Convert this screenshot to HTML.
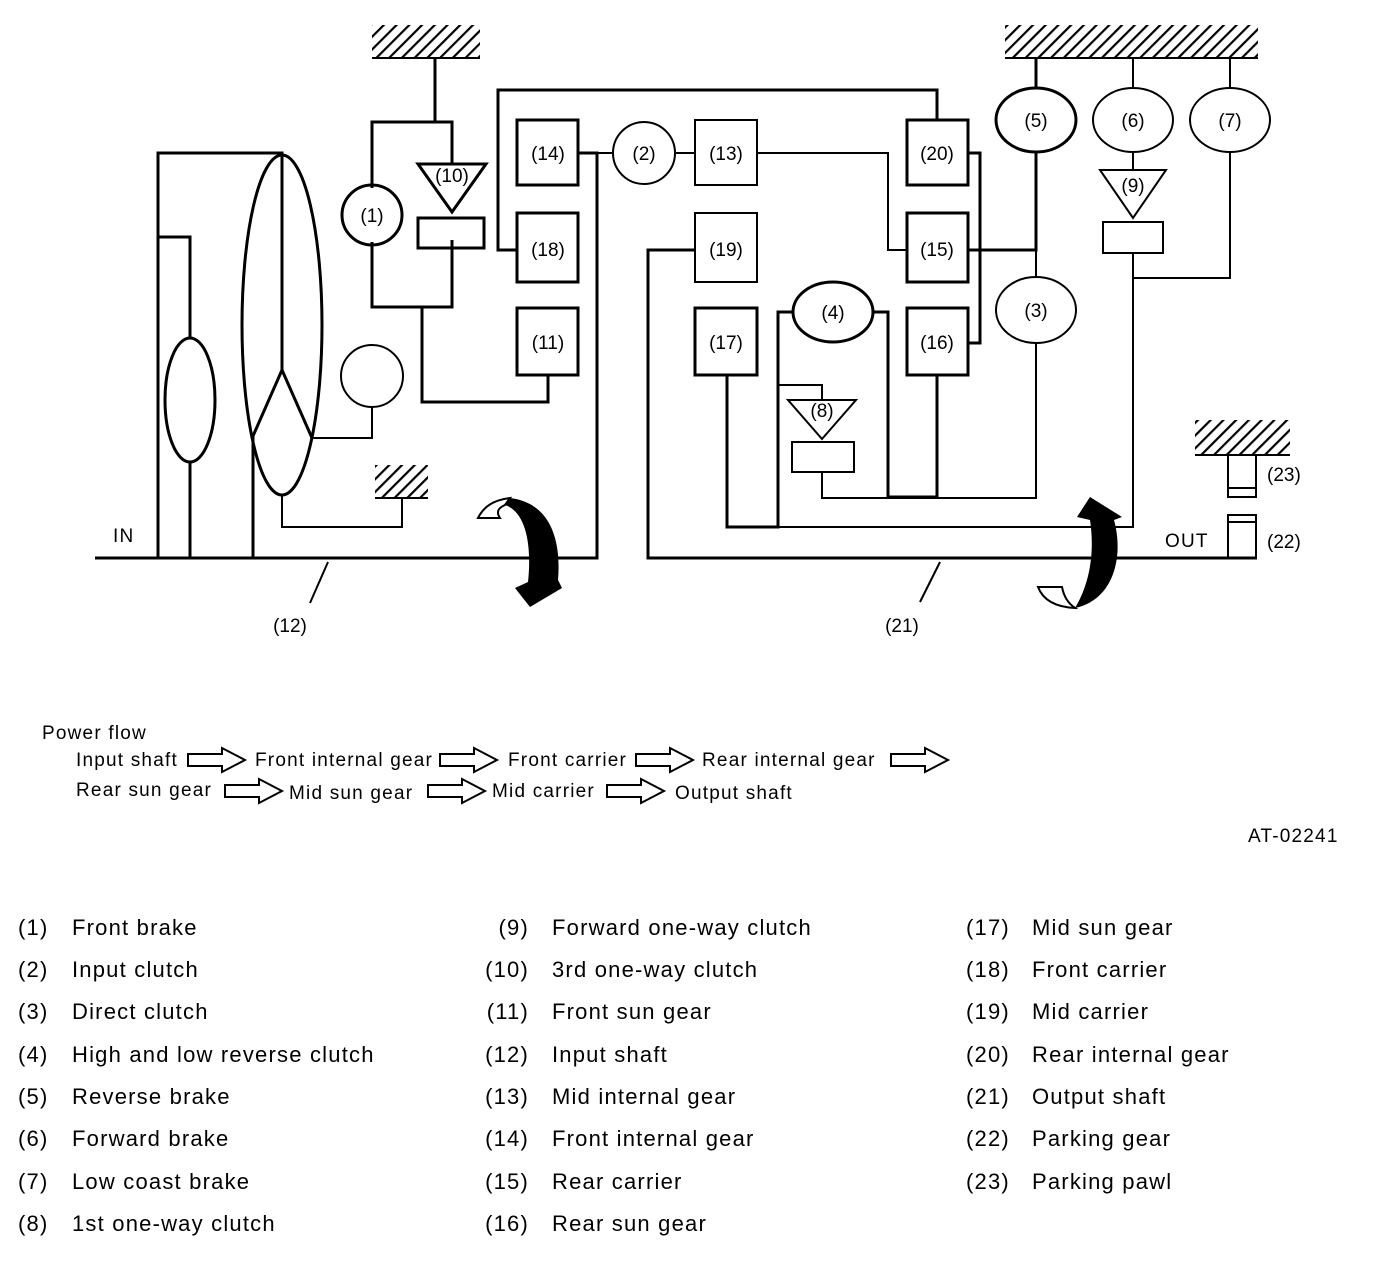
<!DOCTYPE html>
<html><head><meta charset="utf-8"><style>
html,body{margin:0;padding:0;background:#fff;}
svg{display:block;}
text{font-family:"Liberation Sans",Arial,sans-serif;fill:#000;}
.sp{letter-spacing:1.2px;}
</style></head><body>
<svg width="1392" height="1268" viewBox="0 0 1392 1268" xmlns="http://www.w3.org/2000/svg">
<defs>
<pattern id="h" width="9" height="9" patternUnits="userSpaceOnUse" patternTransform="rotate(45)">
<rect x="0" y="0" width="2.2" height="9" fill="#000"/></pattern>
<path id="ha" d="M0,-6 H34 V-12 L57,0 L34,12 V6 H0 Z" fill="#fff" stroke="#000" stroke-width="2"/>
</defs>
<g fill="none" stroke="#000" stroke-width="2">
<rect x="372" y="25" width="108" height="32" fill="url(#h)" stroke="none"/>
<line x1="372" y1="58" x2="480" y2="58"/>
<rect x="1005" y="25" width="253" height="32" fill="url(#h)" stroke="none"/>
<line x1="1005" y1="58" x2="1258" y2="58"/>
<rect x="375" y="465" width="53" height="32" fill="url(#h)" stroke="none"/>
<line x1="375" y1="498" x2="428" y2="498"/>
<rect x="1195" y="420" width="95" height="34" fill="url(#h)" stroke="none"/>
<line x1="1195" y1="455" x2="1290" y2="455"/>
</g>
<g fill="none" stroke="#000" stroke-width="3">
<polyline points="435,58 435,122"/>
<polyline points="372,188 372,122 452,122 452,165"/>
<polyline points="372,242 372,307 452,307 452,240"/>
<polyline points="422,307 422,402 548,402 548,375"/>
<circle cx="372" cy="215" r="30"/>
<polygon points="418,164 486,164 452,212"/>
<rect x="418" y="218" width="66" height="30"/>
<rect x="517" y="120" width="61" height="65"/>
<rect x="517" y="213" width="61" height="69"/>
<rect x="517" y="308" width="61" height="67"/>
<polyline points="517,250 498,250 498,90 937,90 937,120"/>
<polyline points="578,153 597,153 597,558 95,558"/>
<polyline points="158,558 158,153 282,153 282,370"/>
<ellipse cx="282" cy="325" rx="40" ry="170"/>
<polyline points="253,436 282,370 312,438"/>
<line x1="253" y1="436" x2="253" y2="558"/>
<ellipse cx="190" cy="400" rx="25" ry="62"/>
<polyline points="158,237 190,237 190,338"/>
<line x1="190" y1="462" x2="190" y2="558"/>
<rect x="907" y="120" width="61" height="65"/>
<rect x="907" y="213" width="61" height="69"/>
<rect x="907" y="308" width="61" height="67"/>
<rect x="695" y="308" width="62" height="67"/>
<polyline points="968,153 980,153 980,343 968,343"/>
<polyline points="968,250 1036,250 1036,152"/>
<ellipse cx="1036" cy="120" rx="40" ry="32"/>
<line x1="1036" y1="58" x2="1036" y2="88"/>
<ellipse cx="833" cy="312" rx="40" ry="30"/>
<polyline points="793,312 778,312 778,527 727,527 727,375"/>
<polyline points="873,312 888,312 888,497 937,497 937,375"/>
<polyline points="695,250 648,250 648,558 1257,558"/>
</g>
<g fill="none" stroke="#000" stroke-width="2">
<polyline points="312,438 372,438 372,407"/>
<circle cx="372" cy="376" r="31"/>
<polyline points="282,495 282,527 402,527 402,498"/>
<line x1="597" y1="153" x2="613" y2="153"/>
<circle cx="644" cy="153" r="31"/>
<line x1="675" y1="153" x2="695" y2="153"/>
<rect x="695" y="120" width="62" height="65"/>
<rect x="695" y="213" width="62" height="69"/>
<polyline points="757,153 888,153 888,250 907,250"/>
<ellipse cx="1133" cy="120" rx="40" ry="32"/>
<ellipse cx="1230" cy="120" rx="40" ry="32"/>
<line x1="1133" y1="58" x2="1133" y2="88"/>
<line x1="1230" y1="58" x2="1230" y2="88"/>
<polyline points="1036,250 1036,277"/>
<ellipse cx="1036" cy="310" rx="40" ry="33"/>
<polyline points="1036,343 1036,498 822,498 822,472"/>
<polyline points="778,385 822,385 822,400"/>
<polygon points="788,400 856,400 822,439"/>
<rect x="792" y="442" width="62" height="30"/>
<line x1="1133" y1="152" x2="1133" y2="170"/>
<polygon points="1100,170 1166,170 1133,218"/>
<rect x="1103" y="222" width="60" height="31"/>
<polyline points="778,527 1133,527 1133,253"/>
<polyline points="1230,152 1230,278 1133,278"/>
<rect x="1228" y="455" width="28" height="42"/>
<line x1="1228" y1="488" x2="1256" y2="488"/>
<rect x="1228" y="515" width="28" height="43"/>
<line x1="1228" y1="522" x2="1256" y2="522"/>
<line x1="328" y1="562" x2="310" y2="603"/>
<line x1="940" y1="562" x2="920" y2="602"/>
</g>
<!-- left rotation arrow -->
<path d="M478,518 C484,506 494,500 510,498 L505,505 C498,508 496,512 500,518 Z" fill="#fff" stroke="#000" stroke-width="2"/>
<path d="M510,498 C545,502 562,532 558,580 L562,588 L530,607 L515,588 L528,582 C532,545 526,512 505,505 Z" fill="#000"/>
<!-- right rotation arrow -->
<path d="M1038,587 L1062,587 C1064,597 1068,603 1075,608 C1055,607 1043,600 1038,587 Z" fill="#fff" stroke="#000" stroke-width="2"/>
<path d="M1090,497 L1122,517 L1114,520 C1124,556 1114,600 1075,608 C1086,590 1096,560 1090,520 L1077,517 Z" fill="#000"/>
<g font-size="19">
<text x="372" y="222" text-anchor="middle">(1)</text>
<text x="452" y="182" text-anchor="middle">(10)</text>
<text x="548" y="160" text-anchor="middle">(14)</text>
<text x="548" y="256" text-anchor="middle">(18)</text>
<text x="548" y="349" text-anchor="middle">(11)</text>
<text x="644" y="160" text-anchor="middle">(2)</text>
<text x="726" y="160" text-anchor="middle">(13)</text>
<text x="726" y="256" text-anchor="middle">(19)</text>
<text x="726" y="349" text-anchor="middle">(17)</text>
<text x="937" y="160" text-anchor="middle">(20)</text>
<text x="937" y="256" text-anchor="middle">(15)</text>
<text x="937" y="349" text-anchor="middle">(16)</text>
<text x="833" y="319" text-anchor="middle">(4)</text>
<text x="822" y="417" text-anchor="middle">(8)</text>
<text x="1036" y="127" text-anchor="middle">(5)</text>
<text x="1133" y="127" text-anchor="middle">(6)</text>
<text x="1230" y="127" text-anchor="middle">(7)</text>
<text x="1133" y="192" text-anchor="middle">(9)</text>
<text x="1036" y="317" text-anchor="middle">(3)</text>
<text x="1267" y="481">(23)</text>
<text x="1267" y="548">(22)</text>
<text x="1165" y="547" class="sp">OUT</text>
<text x="113" y="542" class="sp">IN</text>
<text x="290" y="632" text-anchor="middle">(12)</text>
<text x="902" y="632" text-anchor="middle">(21)</text>
<g class="sp">
<text x="42" y="739">Power flow</text>
<text x="76" y="766">Input shaft</text>
<text x="255" y="766">Front internal gear</text>
<text x="508" y="766">Front carrier</text>
<text x="702" y="766">Rear internal gear</text>
<text x="76" y="796">Rear sun gear</text>
<text x="289" y="799">Mid sun gear</text>
<text x="492" y="797">Mid carrier</text>
<text x="675" y="799">Output shaft</text>
<text x="1248" y="842">AT-02241</text>
</g>
</g>
<use href="#ha" x="188" y="760"/>
<use href="#ha" x="440" y="760"/>
<use href="#ha" x="636" y="760"/>
<use href="#ha" x="891" y="760"/>
<use href="#ha" x="225" y="791"/>
<use href="#ha" x="428" y="791"/>
<use href="#ha" x="607" y="791"/>
<g font-size="22" class="sp">
<text x="18" y="935">(1)</text><text x="72" y="935">Front brake</text>
<text x="18" y="977">(2)</text><text x="72" y="977">Input clutch</text>
<text x="18" y="1019">(3)</text><text x="72" y="1019">Direct clutch</text>
<text x="18" y="1062">(4)</text><text x="72" y="1062">High and low reverse clutch</text>
<text x="18" y="1104">(5)</text><text x="72" y="1104">Reverse brake</text>
<text x="18" y="1146">(6)</text><text x="72" y="1146">Forward brake</text>
<text x="18" y="1189">(7)</text><text x="72" y="1189">Low coast brake</text>
<text x="18" y="1231">(8)</text><text x="72" y="1231">1st one-way clutch</text>
<g text-anchor="end">
<text x="529" y="935">(9)</text><text x="529" y="977">(10)</text><text x="529" y="1019">(11)</text><text x="529" y="1062">(12)</text>
<text x="529" y="1104">(13)</text><text x="529" y="1146">(14)</text><text x="529" y="1189">(15)</text><text x="529" y="1231">(16)</text>
</g>
<text x="552" y="935">Forward one-way clutch</text>
<text x="552" y="977">3rd one-way clutch</text>
<text x="552" y="1019">Front sun gear</text>
<text x="552" y="1062">Input shaft</text>
<text x="552" y="1104">Mid internal gear</text>
<text x="552" y="1146">Front internal gear</text>
<text x="552" y="1189">Rear carrier</text>
<text x="552" y="1231">Rear sun gear</text>
<text x="966" y="935">(17)</text><text x="1032" y="935">Mid sun gear</text>
<text x="966" y="977">(18)</text><text x="1032" y="977">Front carrier</text>
<text x="966" y="1019">(19)</text><text x="1032" y="1019">Mid carrier</text>
<text x="966" y="1062">(20)</text><text x="1032" y="1062">Rear internal gear</text>
<text x="966" y="1104">(21)</text><text x="1032" y="1104">Output shaft</text>
<text x="966" y="1146">(22)</text><text x="1032" y="1146">Parking gear</text>
<text x="966" y="1189">(23)</text><text x="1032" y="1189">Parking pawl</text>
</g>
</svg>
</body></html>
